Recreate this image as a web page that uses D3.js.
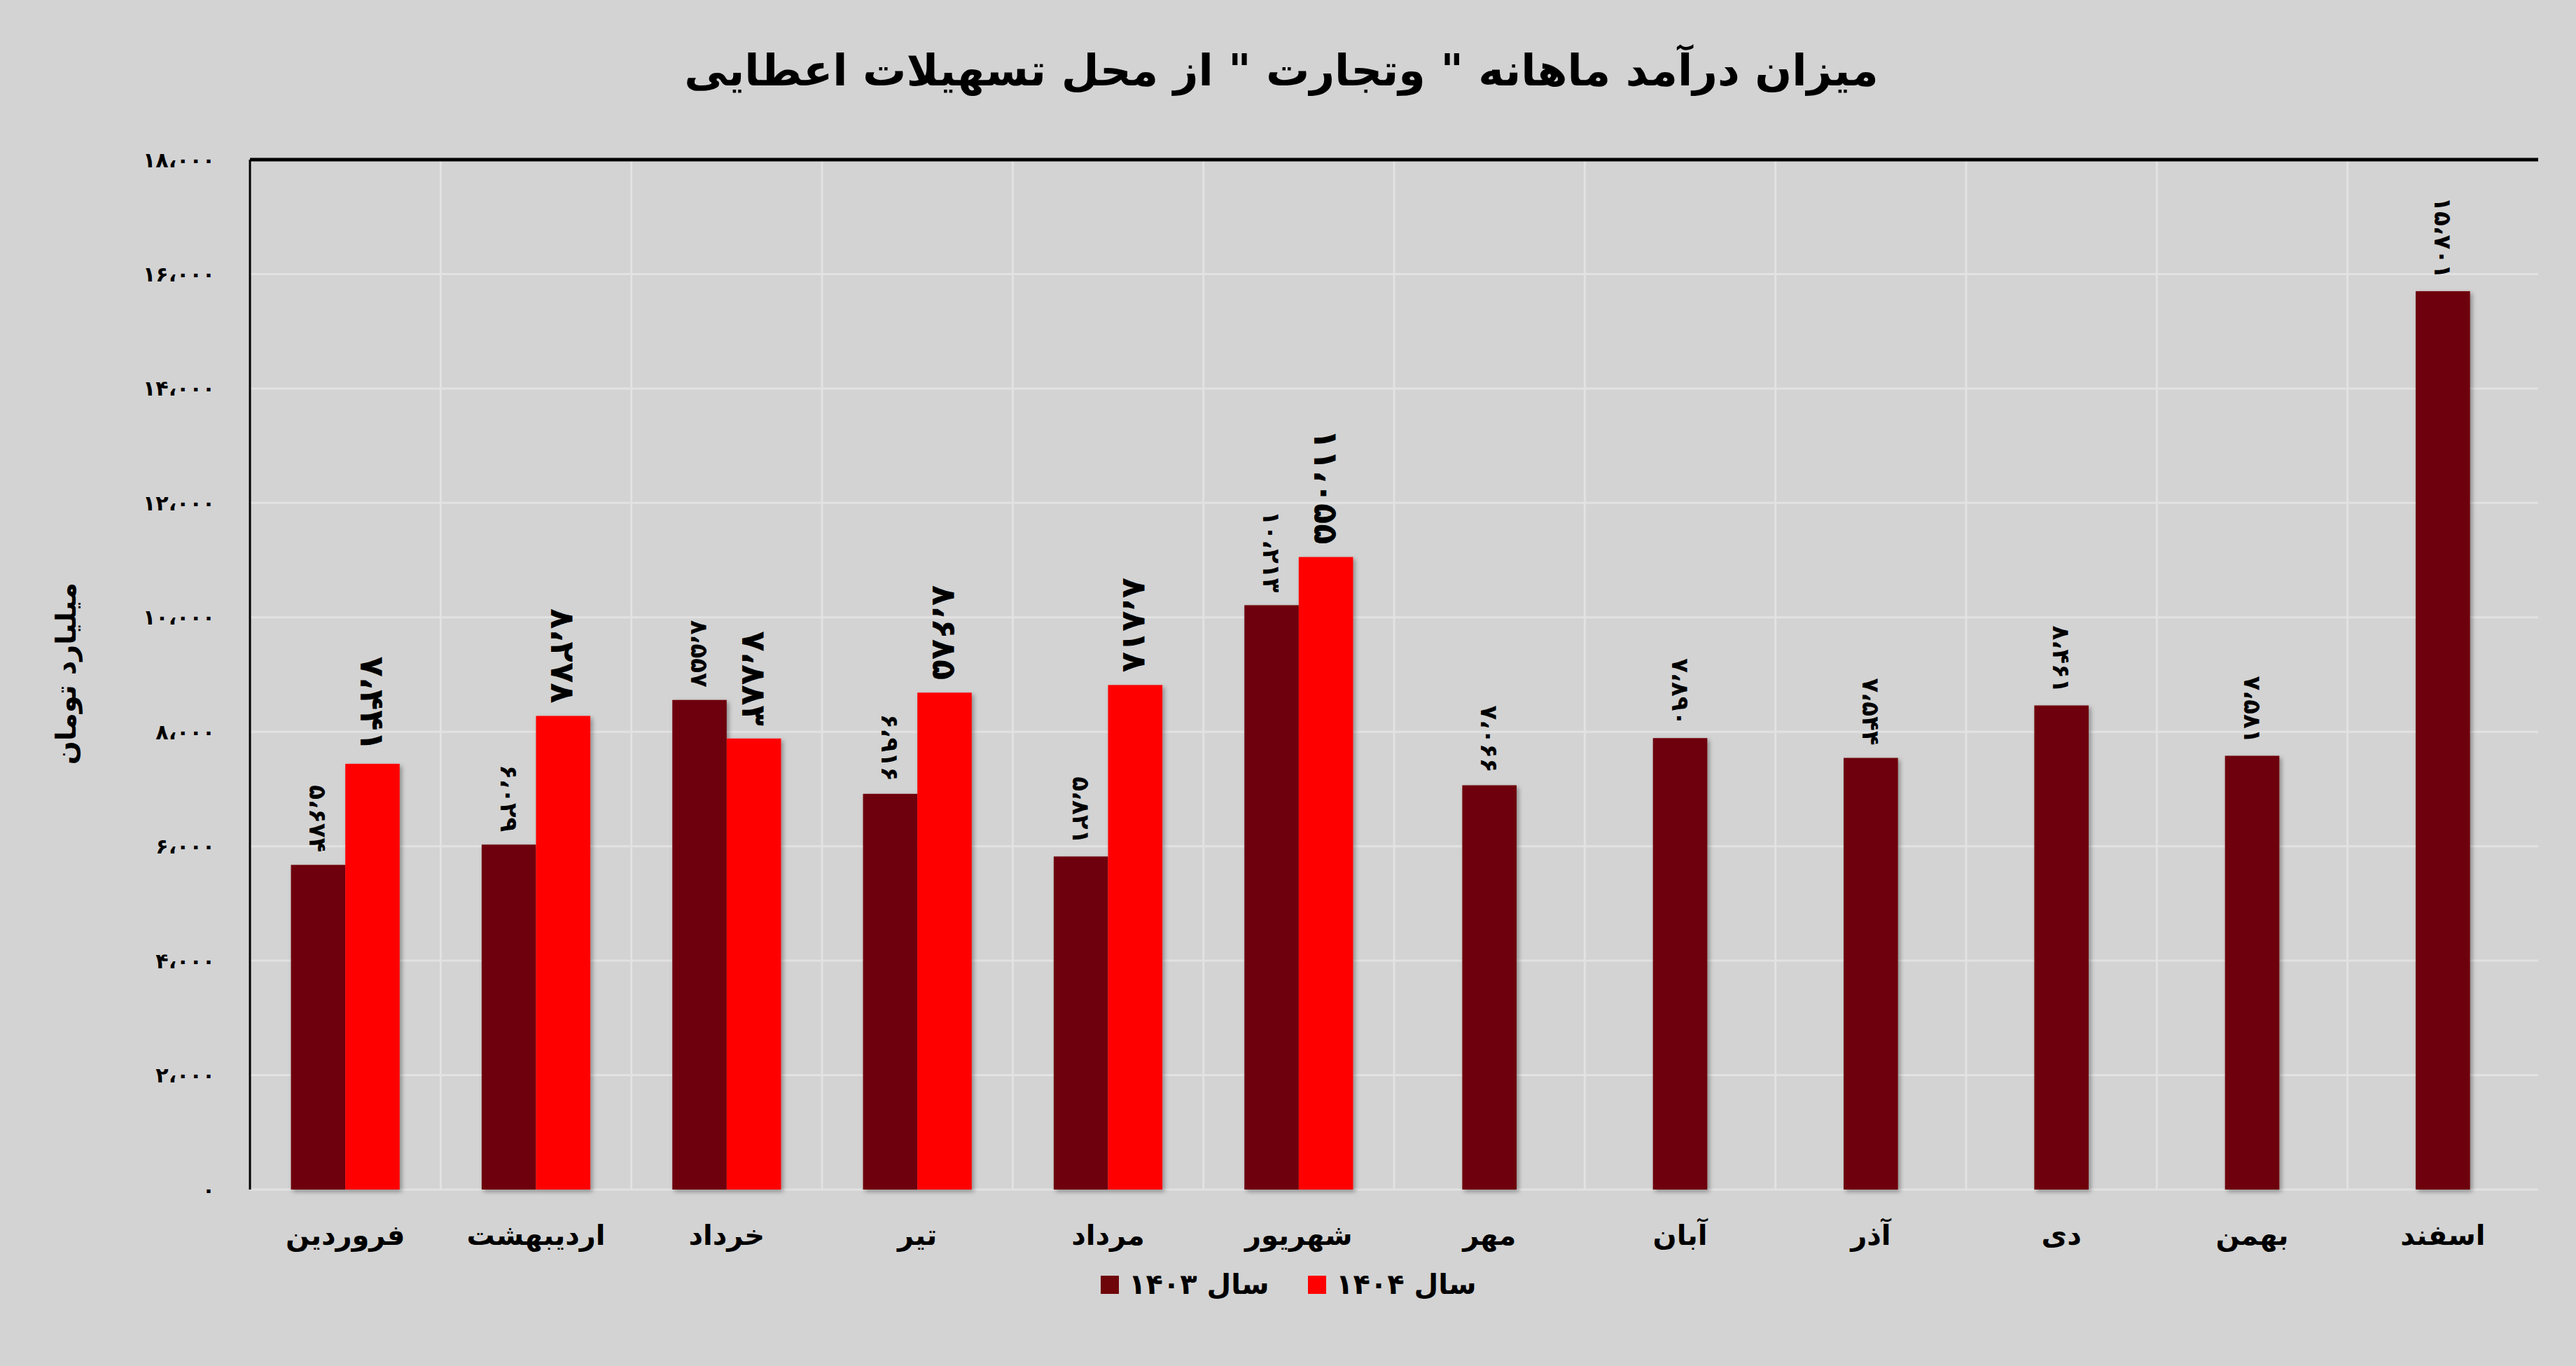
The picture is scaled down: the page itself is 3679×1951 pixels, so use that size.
<!DOCTYPE html>
<html><head><meta charset="utf-8">
<script src="https://cdn.jsdelivr.net/npm/d3@7"></script>
<style>body{margin:0;background:#d3d3d3}svg{display:block;font-family:"DejaVu Sans",sans-serif}</style>
</head><body><svg id="c" width="3679" height="1951"></svg>
<script>
const months = ['فروردین','اردیبهشت','خرداد','تیر','مرداد','شهریور','مهر','آبان','آذر','دی','بهمن','اسفند'];
const y1403 = [5674, 6029, 8557, 6916, 5821, 10213, 7066, 7890, 7544, 8461, 7581, 15701];
const y1404 = [7441, 8278, 7883, 8685, 8818, 11055];
const yTicks = [0, 2000, 4000, 6000, 8000, 10000, 12000, 14000, 16000, 18000];
const seriesNames = ['سال ۱۴۰۳', 'سال ۱۴۰۴'];
const colors = ['#6e050a', '#ff0000'];

const fa = n => d3.format(',')(n).replace(/,/g, '،').replace(/\d/g, d => '۰۱۲۳۴۵۶۷۸۹'[d]);
const W = 3679, H = 1951, m = {l: 357, r: 54, t: 228, b: 252};
const svg = d3.select('#c');
svg.append('rect').attr('width', W).attr('height', H).attr('fill', '#d3d3d3');

const defs = svg.append('defs');
defs.append('filter').attr('id', 'sh').append('feDropShadow')
    .attr('dx', 3).attr('dy', 3).attr('stdDeviation', 3).attr('flood-opacity', 0.35);

const x = d3.scaleBand().domain(months).range([m.l, W - m.r]);
const y = d3.scaleLinear().domain([0, 18000]).range([H - m.b, m.t]);
const bw = x.bandwidth() * 0.285;

// grid
svg.append('g').selectAll('line').data(yTicks).join('line')
    .attr('x1', m.l).attr('x2', W - m.r).attr('y1', d => y(d)).attr('y2', d => y(d))
    .attr('stroke', '#e2e2e2').attr('stroke-width', 3);
svg.append('g').selectAll('line').data(months.slice(1)).join('line')
    .attr('x1', d => x(d)).attr('x2', d => x(d)).attr('y1', m.t).attr('y2', H - m.b)
    .attr('stroke', '#e2e2e2').attr('stroke-width', 3);
svg.append('line').attr('x1', m.l).attr('x2', W - m.r).attr('y1', m.t).attr('y2', m.t)
    .attr('stroke', '#000').attr('stroke-width', 5);
svg.append('line').attr('x1', m.l).attr('x2', m.l).attr('y1', m.t).attr('y2', H - m.b)
    .attr('stroke', '#000').attr('stroke-width', 3);

// y ticks
svg.append('g').selectAll('text').data(yTicks).join('text')
    .attr('x', m.l - 50).attr('y', d => y(d)).attr('dy', '0.35em')
    .attr('text-anchor', 'end').attr('font-size', 30).attr('font-weight', 'bold')
    .text(fa);

// bars
const g = svg.append('g').attr('filter', 'url(#sh)');
const cx = d => x(d) + x.bandwidth() / 2;
g.selectAll('.a').data(y1403).join('rect')
    .attr('x', (d, i) => cx(months[i]) - (i < y1404.length ? bw : bw / 2))
    .attr('y', d => y(d)).attr('width', bw).attr('height', d => y(0) - y(d)).attr('fill', colors[0]);
g.selectAll('.b').data(y1404).join('rect').attr('class', 'b')
    .attr('x', (d, i) => cx(months[i]))
    .attr('y', d => y(d)).attr('width', bw).attr('height', d => y(0) - y(d)).attr('fill', colors[1]);

// labels
const lab = (data, off, size) => svg.append('g').selectAll('text').data(data).join('text')
    .attr('transform', (d, i) => {
        const px = cx(months[i]) + off(i);
        return `translate(${px},${y(d) - 18}) rotate(90)`;
    })
    .attr('text-anchor', 'end').attr('dy', '0.35em')
    .attr('font-size', size).attr('font-weight', 'bold').text(fa);
lab(y1403, i => i < y1404.length ? -bw / 2 : 0, 34);
lab(y1404, () => bw / 2, 48);

// x labels
svg.append('g').selectAll('text').data(months).join('text')
    .attr('x', cx).attr('y', 1778).attr('text-anchor', 'middle')
    .attr('font-size', 40).attr('font-weight', 'bold').text(d => d);

// title
svg.append('text').attr('x', 1830).attr('y', 122).attr('text-anchor', 'middle')
    .attr('font-size', 62).attr('font-weight', 'bold')
    .text('میزان درآمد ماهانه " وتجارت " از محل تسهیلات اعطایی');

// y title
svg.append('text').attr('transform', 'translate(108,962) rotate(-90)')
    .attr('text-anchor', 'middle').attr('font-size', 40).attr('font-weight', 'bold')
    .text('میلیارد تومان');

// legend
const lg = svg.append('g');
[[1572, 0], [1868, 1]].forEach(([lx, i]) => {
    lg.append('rect').attr('x', lx).attr('y', 1822).attr('width', 26).attr('height', 26).attr('fill', colors[i]);
    lg.append('text').attr('x', lx + 40).attr('y', 1848).attr('text-anchor', 'start')
        .attr('direction', 'ltr').attr('font-size', 40).attr('font-weight', 'bold').text(seriesNames[i]);
});
</script></body></html>
